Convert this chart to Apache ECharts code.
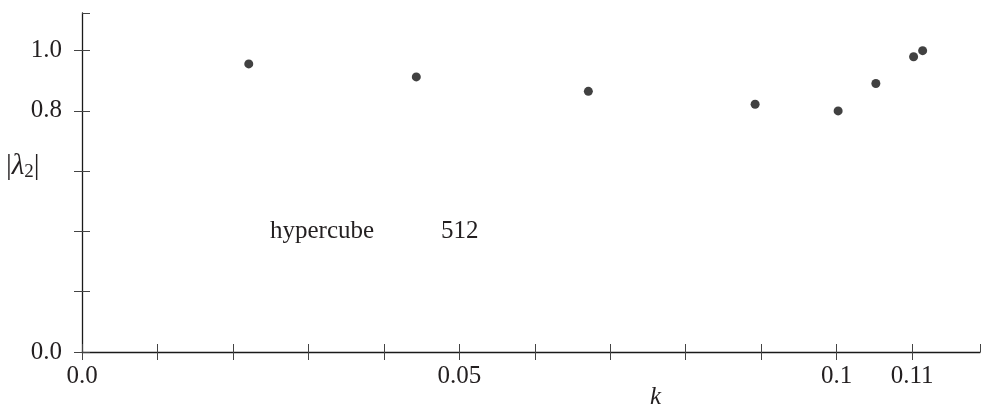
<!DOCTYPE html>
<html>
<head>
<meta charset="utf-8">
<script src="https://cdn.jsdelivr.net/npm/echarts@6/dist/echarts.min.js"></script>
<style>html,body{margin:0;padding:0;background:#fff}#c{width:981px;height:406px}</style>
</head>
<body>
<div id="c"></div>
<script>
// data
const kValues = [0.0221, 0.0443, 0.0671, 0.0892, 0.1002, 0.1052, 0.1102, 0.1114];
const lambda2 = [0.956, 0.913, 0.865, 0.822, 0.800, 0.891, 0.980, 1.000];
const xTickLabels = {"0": "0.0", "0.05": "0.05", "0.1": "0.1", "0.11": "0.11"};
const yTickLabels = {"0": "0.0", "0.8": "0.8", "1": "1.0"};
const annotation = ["hypercube", "512"];

const FONT = '"Liberation Serif", "DejaVu Serif", serif';
const FS = 25;
const fmtX = v => { const k = String(Math.round(v * 100) / 100); return xTickLabels[k] !== undefined ? xTickLabels[k] : ''; };
const fmtY = v => { const k = String(Math.round(v * 10) / 10); return yTickLabels[k] !== undefined ? yTickLabels[k] : ''; };

const chart = echarts.init(document.getElementById('c'));
const xBase = {type: 'value', min: 0, max: 0.119, interval: 0.01, splitLine: {show: false}, gridIndex: 0};
const yBase = {type: 'value', min: 0, max: 1.125, interval: 0.2, splitLine: {show: false}, gridIndex: 0};
chart.setOption({
  animation: false,
  backgroundColor: '#fff',
  grid: {left: 82, right: 1, top: 13, bottom: 54, containLabel: false},
  xAxis: [
    Object.assign({}, xBase, {
      axisLine: {show: true, lineStyle: {color: '#1a1a1a', width: 1.3}},
      axisTick: {show: true, inside: false, length: 8, lineStyle: {color: '#444', width: 1}},
      axisLabel: {show: true, formatter: fmtX, margin: 12, color: '#231f20', fontFamily: FONT, fontSize: FS, showMaxLabel: false}
    }),
    Object.assign({}, xBase, {
      position: 'bottom',
      axisLine: {show: false},
      axisTick: {show: true, inside: true, length: 8, lineStyle: {color: '#444', width: 1}},
      axisLabel: {show: false}
    })
  ],
  yAxis: [
    Object.assign({}, yBase, {
      axisLine: {show: true, lineStyle: {color: '#1a1a1a', width: 1.3}},
      axisTick: {show: true, inside: false, length: 8, lineStyle: {color: '#444', width: 1}},
      axisLabel: {show: true, formatter: fmtY, margin: 20, color: '#231f20', fontFamily: FONT, fontSize: FS, showMaxLabel: false, padding: [4, 0, 0, 0]}
    }),
    Object.assign({}, yBase, {
      position: 'left',
      axisLine: {show: false},
      axisTick: {show: true, inside: true, length: 8, lineStyle: {color: '#444', width: 1}},
      axisLabel: {show: false}
    })
  ],
  series: [{
    type: 'scatter',
    xAxisIndex: 0, yAxisIndex: 0,
    data: kValues.map((k, i) => [k, lambda2[i]]),
    symbol: 'circle',
    symbolSize: 9,
    itemStyle: {color: '#111'}
  }],
  graphic: [
    {type: 'text', left: 270, top: 219, style: {text: annotation[0], font: FS + 'px ' + FONT, fill: '#231f20'}},
    {type: 'text', left: 441, top: 219, style: {text: annotation[1], font: FS + 'px ' + FONT, fill: '#231f20'}},
    {type: 'text', left: 650, top: 385, style: {text: 'k', font: 'italic ' + FS + 'px ' + FONT, fill: '#231f20'}},
    {type: 'text', left: 6, top: 152, style: {
      rich: {
        n: {font: '29px ' + FONT, fill: '#231f20'},
        i: {font: 'italic 29px ' + FONT, fill: '#231f20'},
        s: {font: '19px ' + FONT, fill: '#231f20', verticalAlign: 'bottom', padding: [11, 0, 0, 0]}
      },
      text: '{n||}{i|λ}{s|2}{n||}'
    }}
  ]
});
</script>
</body>
</html>
